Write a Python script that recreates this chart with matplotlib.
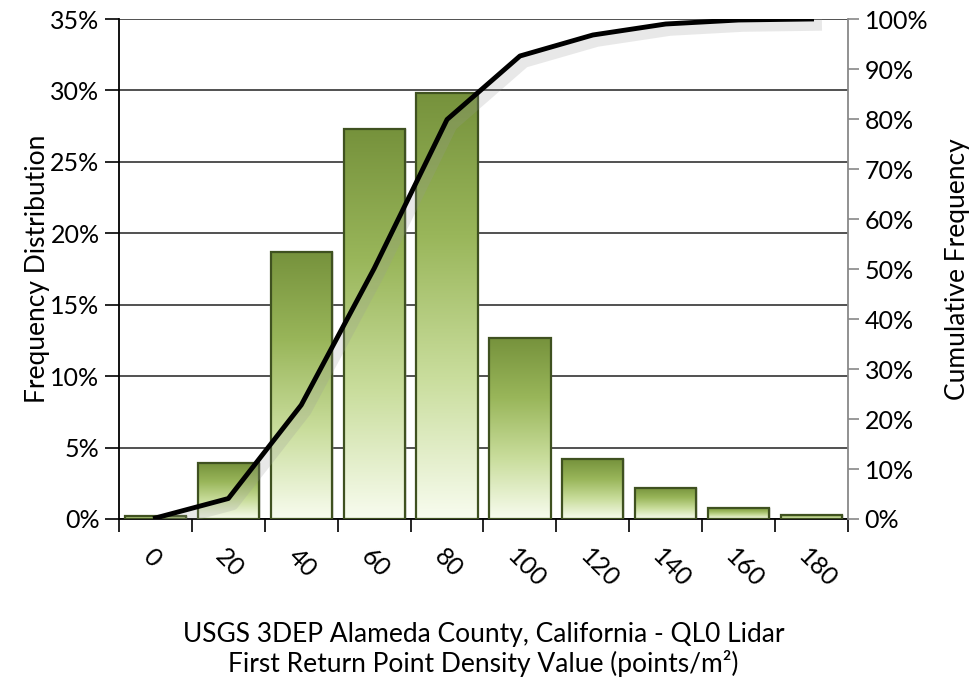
import numpy as np
import matplotlib.pyplot as plt
import matplotlib.patheffects as pe
import matplotlib.transforms as mtransforms
from matplotlib.colors import LinearSegmentedColormap
from matplotlib.ticker import FuncFormatter, MultipleLocator

# dados
categorias = ['0', '20', '40', '60', '80', '100', '120', '140', '160', '180']
frequencia = [0.2, 3.9, 18.7, 27.3, 29.8, 12.7, 4.2, 2.2, 0.8, 0.3]
acumulada = [0.2, 4.1, 22.8, 50.1, 79.9, 92.6, 96.8, 99.0, 99.8, 100.0]

plt.rcParams['font.family'] = ['Lato', 'DejaVu Sans']

fig = plt.figure(figsize=(9.79, 6.81), dpi=100)
ax = fig.add_axes([119 / 979, 1 - 519 / 681, (848 - 119) / 979, 500 / 681])

x = np.arange(len(categorias))
largura = 0.84

# gradiente verde escuro (topo) -> quase branco (base)
cmap = LinearSegmentedColormap.from_list('verde', ['#f8fcef', '#c9dd9c', '#99b65a', '#76923c'])
grad = np.linspace(0, 1, 256).reshape(-1, 1)

barras = ax.bar(x, frequencia, width=largura, color='none', edgecolor='#3f5120',
                linewidth=1.6, zorder=3)
for b in barras:
    x0, y0 = b.get_x(), b.get_y()
    w, h = b.get_width(), b.get_height()
    # sombra da barra
    ax.add_patch(plt.Rectangle((x0 + 0.025, y0), w, h, color='#9a9a9a', alpha=0.3,
                               lw=0, zorder=2))
    im = ax.imshow(grad, cmap=cmap, aspect='auto', origin='lower',
                   extent=[x0, x0 + w, y0, y0 + h], zorder=2.5)
    im.set_clip_path(b)

ax.set_xlim(-0.5, len(categorias) - 0.5)
ax.set_ylim(0, 35)
ax.yaxis.set_major_locator(MultipleLocator(5))
ax.yaxis.set_major_formatter(FuncFormatter(lambda v, p: f'{v:.0f}%'))
ax.grid(axis='y', color='#333333', linewidth=1.2, zorder=0)
ax.set_axisbelow(True)

# ticks do eixo x nas divisas, rotulos no centro
ax.set_xticks(np.arange(-0.5, len(categorias)), labels=[''] * (len(categorias) + 1))
ax.set_xticks(x, minor=True)
ax.set_xticklabels(categorias, minor=True, rotation=-45, ha='left', va='center',
                   rotation_mode='anchor')
ax.tick_params(axis='x', which='minor', length=0, pad=24, labelsize=18)
ax.tick_params(axis='x', which='major', length=9, width=1.2, direction='out')
ax.tick_params(axis='y', length=10, width=1.2, direction='out', labelsize=18, pad=4)
deslocar = mtransforms.ScaledTranslation(-9 / 100, 0, fig.dpi_scale_trans)
for lab in ax.get_xticklabels(minor=True):
    lab.set_transform(lab.get_transform() + deslocar)

for s in ['top', 'right']:
    ax.spines[s].set_visible(False)
ax.spines['left'].set_linewidth(1.3)
ax.spines['bottom'].set_linewidth(1.3)

ax.set_ylabel('Frequency Distribution', fontsize=19, labelpad=0)
ax.set_xlabel('USGS 3DEP Alameda County, California - QL0 Lidar\n'
              'First Return Point Density Value (points/m²)',
              fontsize=19, labelpad=22, linespacing=1.15)

# eixo da frequencia acumulada
ax2 = ax.twinx()
ax2.plot(x, acumulada, color='black', linewidth=3.5, zorder=5,
         path_effects=[pe.SimpleLineShadow(offset=(3, -4), shadow_color='#999999', alpha=0.22,
                                           linewidth=9),
                       pe.Normal()])
ax2.set_ylim(0, 100)
ax2.yaxis.set_major_locator(MultipleLocator(10))
ax2.yaxis.set_major_formatter(FuncFormatter(lambda v, p: f'{v:.0f}%'))
ax2.tick_params(axis='y', length=8, width=1.2, color='#888888', direction='out',
                labelsize=18, pad=4)
for s in ['top', 'left', 'bottom']:
    ax2.spines[s].set_visible(False)
ax2.spines['right'].set_color('#888888')
ax2.spines['right'].set_linewidth(1.3)
ax2.set_ylabel('Cumulative Frequency', fontsize=19, labelpad=12)

fig.savefig('out.png', dpi=100)
